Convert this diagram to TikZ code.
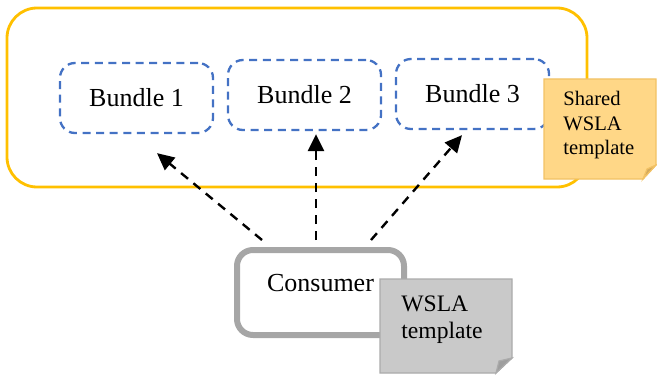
\documentclass[tikz,border=0pt]{standalone}
\usepackage{fontspec}
\setmainfont{Liberation Serif}
\usetikzlibrary{arrows.meta}

\definecolor{groupyellow}{HTML}{FFC000}
\definecolor{bundleblue}{HTML}{4472C4}
\definecolor{consumergray}{HTML}{A6A6A6}
\definecolor{sharedfill}{HTML}{FFD787}
\definecolor{sharedline}{HTML}{F2C265}
\definecolor{sharedfold}{HTML}{D4AA5C}
\definecolor{wslafill}{HTML}{C9C9C9}
\definecolor{wslaline}{HTML}{ABABAB}
\definecolor{wslafold}{HTML}{9E9E9E}

\begin{document}
\begin{tikzpicture}[x=0.5pt,y=-0.5pt,
  group/.style={draw=groupyellow, line width=1.4pt, rounded corners=15pt,
    minimum width=290pt, minimum height=89.5pt},
  bundle/.style={draw=bundleblue, line width=1.15pt, dash pattern=on 4pt off 2.8pt,
    rounded corners=7.5pt, minimum width=76.5pt, minimum height=35pt,
    font=\fontsize{13}{15.6}\selectfont},
  consumerbox/.style={draw=consumergray, line width=3pt, rounded corners=8pt,
    minimum width=83.5pt, minimum height=42.5pt, text depth=10pt,
    font=\fontsize{13}{15.6}\selectfont},
  notetext/.style={anchor=north west, inner sep=0pt, align=left},
  link/.style={dash pattern=on 4.5pt off 3.5pt, line width=1.2pt,
    -{Triangle[length=8.5pt,width=8pt]}}]
\useasboundingbox (0,0) rectangle (657,374);

%%%%%%%%%%%%%%%%%%%%%%%%%%%%%%%%%%%%%%%%%%% provider side
\node[group](provider) at (297,97.5){};
\node[bundle](b1) at (136.5,98){Bundle 1};
\node[bundle](b2) at (304.5,95){Bundle 2};
\node[bundle](b3) at (472.5,94){Bundle 3};

%%%%% shared template note
\filldraw[draw=sharedline, fill=sharedfill, line width=0.6pt]
  (544,79) -- (656,79) -- (656,165) -- (643,179) -- (544,179) -- cycle;
\filldraw[draw=sharedline, fill=sharedfold, line width=0.6pt]
  (643,179) -- (656,165) -- (647,169) -- cycle;
\node[notetext, font=\fontsize{10.3}{12.3}\selectfont](shared) at (563,91){Shared\\WSLA\\template};

%%%%%%%%%%%%%%%%%%%%%%%%%%%%%%%%%%%%%%%%%%% consumer side
\node[consumerbox](consumer) at (320.5,292.5){Consumer};

\draw[link] ([xshift=-29.25pt,yshift=3.5pt]consumer.north) -- ([xshift=10.25pt,yshift=-9.5pt]b1.south);
\draw[link] ([xshift=-2.25pt,yshift=3.5pt]consumer.north) -- ([xshift=5.75pt,yshift=-1.5pt]b2.south);
\draw[link] ([xshift=25.25pt,yshift=3.5pt]consumer.north) -- ([xshift=-5.25pt,yshift=-2.5pt]b3.south);

%%%%% own template note
\filldraw[draw=wslaline, fill=wslafill, line width=0.6pt]
  (380,279) -- (512,279) -- (512,358) -- (496,373) -- (380,373) -- cycle;
\filldraw[draw=wslaline, fill=wslafold, line width=0.6pt]
  (496,373) -- (512,358) -- (499,361) -- cycle;
\node[notetext, font=\fontsize{11.8}{13.5}\selectfont](wsla) at (401,295){WSLA\\template};
\end{tikzpicture}
\end{document}
